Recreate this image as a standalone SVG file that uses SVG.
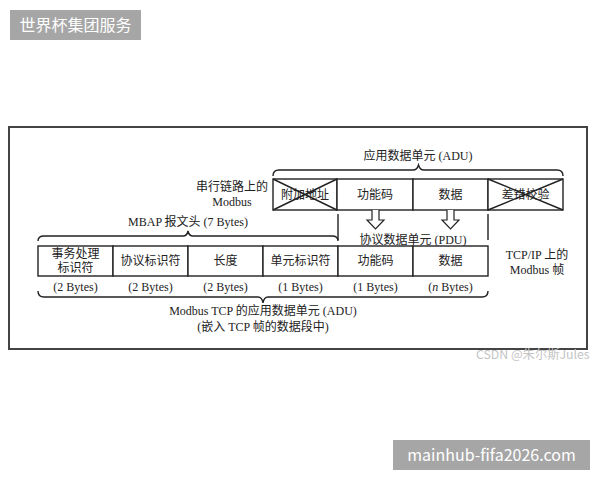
<svg xmlns="http://www.w3.org/2000/svg" width="600" height="480" viewBox="0 0 600 480">
<style>
.t{font-family:"Liberation Serif","Noto Sans CJK SC",serif;font-size:12px;fill:#222}
.m{text-anchor:middle}
.box{fill:#fff;stroke:#222;stroke-width:1.4}
.ln{fill:none;stroke:#222;stroke-width:1.4}
.arr{fill:#fff;stroke:#222;stroke-width:1.2}
.badge{fill:#a6a6a6}
.bt{font-family:"Noto Sans CJK SC","Noto Sans",sans-serif;font-size:16px;fill:#fff}
</style>
<rect width="600" height="480" fill="#fff"/>
<g id="badge-top"><rect class="badge" x="10" y="10" width="131" height="30"/><text class="bt" x="75.5" y="31" text-anchor="middle">世界杯集团服务</text></g>
<g id="badge-bottom"><rect class="badge" x="393" y="440" width="197" height="30"/><text class="bt" x="491.5" y="461" text-anchor="middle" font-size="16.8">mainhub-fifa2026.com</text></g>
<rect id="frame" x="9" y="127" width="578" height="222" fill="none" stroke="#444" stroke-width="2"/>

<g id="serial-label"><text class="t" x="268" y="191" text-anchor="end">串行链路上的</text><text class="t m" x="232" y="206">Modbus</text></g>
<g id="adu-serial-label"><text class="t m" x="418" y="160">应用数据单元 (ADU)</text></g>

<g id="serial-addr"><rect class="box" x="273" y="179" width="64" height="31"/><text class="t m" x="305" y="199">附加地址</text><path class="ln" d="M273,179 L337,210 M337,179 L273,210"/></g>
<g id="serial-func"><rect class="box" x="337" y="179" width="76" height="31"/><text class="t m" x="375" y="199">功能码</text></g>
<g id="serial-data"><rect class="box" x="413" y="179" width="75" height="31"/><text class="t m" x="450.5" y="199">数据</text></g>
<g id="serial-crc"><rect class="box" x="488" y="179" width="75" height="31"/><text class="t m" x="525.5" y="199">差错校验</text><path class="ln" d="M488,179 L563,210 M563,179 L488,210"/></g>

<g id="pdu-label"><text class="t m" x="413" y="244">协议数据单元 (PDU)</text></g>
<g id="mbap-label"><text class="t m" x="188" y="226">MBAP 报文头 (7 Bytes)</text></g>

<g id="tcp-trans"><rect class="box" x="38" y="246" width="75" height="30"/><text class="t m" x="75.5" y="258">事务处理</text><text class="t m" x="75.5" y="272">标识符</text></g>
<g id="tcp-proto"><rect class="box" x="113" y="246" width="75" height="30"/><text class="t m" x="150.5" y="265">协议标识符</text></g>
<g id="tcp-len"><rect class="box" x="188" y="246" width="75" height="30"/><text class="t m" x="225.5" y="265">长度</text></g>
<g id="tcp-unit"><rect class="box" x="263" y="246" width="75" height="30"/><text class="t m" x="300.5" y="265">单元标识符</text></g>
<g id="tcp-func"><rect class="box" x="338" y="246" width="75" height="30"/><text class="t m" x="375.5" y="265">功能码</text></g>
<g id="tcp-data"><rect class="box" x="413" y="246" width="75" height="30"/><text class="t m" x="450.5" y="265">数据</text></g>

<g id="bytes">
<text class="t m" x="75.5" y="291">(2 Bytes)</text>
<text class="t m" x="150.5" y="291">(2 Bytes)</text>
<text class="t m" x="225.5" y="291">(2 Bytes)</text>
<text class="t m" x="300.5" y="291">(1 Bytes)</text>
<text class="t m" x="375.5" y="291">(1 Bytes)</text>
<text class="t m" x="450.5" y="291">(<tspan font-style="italic">n</tspan> Bytes)</text>
</g>

<g id="tcpip-label"><text class="t m" x="537" y="259">TCP/IP 上的</text><text class="t m" x="537" y="274">Modbus 帧</text></g>
<g id="adu-tcp-label"><text class="t m" x="263" y="315">Modbus TCP 的应用数据单元 (ADU)</text><text class="t m" x="263" y="331">(嵌入 TCP 帧的数据段中)</text></g>

<g id="connectors">
<path class="ln" d="M273,176 Q273,170 279,170 L413,170 Q417,170 418.5,165 Q420,170 424,170 L557,170 Q563,170 563,176"/>
<path class="ln" d="M38,241 Q38,236 44,236 L183,236 Q187,236 188,231 Q189,236 193,236 L332,236 Q338,236 338,241"/>
<path class="ln" d="M38,291 Q38,297 44,297 L258,297 Q262,297 263,303 Q264,297 268,297 L482,297 Q488,297 488,291"/>
<path class="ln" d="M338,214 L338,240 M488,214 L488,240"/>
<path class="arr" d="M372,210 L372,220 L367,220 L375.5,229 L384,220 L379,220 L379,210"/>
<path class="arr" d="M447,210 L447,220 L442,220 L450.5,229 L459,220 L454,220 L454,210"/>
</g>

<text id="watermark" x="476" y="359" font-family="'Noto Sans CJK SC','Noto Sans',sans-serif" font-size="12.3" fill="#c4c4c4">CSDN @朱尔斯Jules</text>
</svg>
